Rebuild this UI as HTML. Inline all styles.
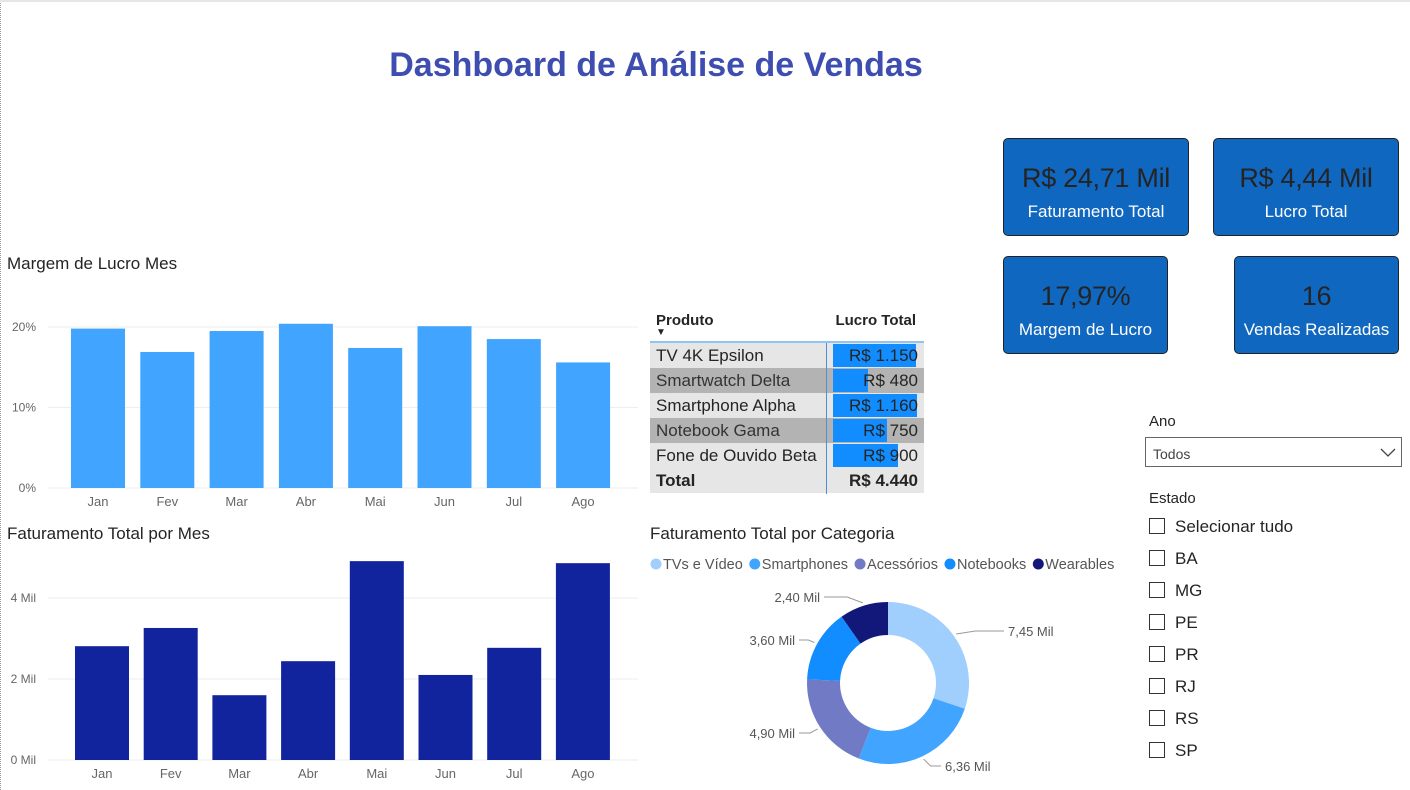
<!DOCTYPE html>
<html><head><meta charset="utf-8">
<style>
body{margin:0;width:1410px;height:790px;background:#fff;font-family:"Liberation Sans",sans-serif;position:relative;overflow:hidden}
.abs{position:absolute}
.card{position:absolute;background:#1067bf;border:1px solid #222;border-radius:5px;text-align:center;color:#fff;box-sizing:border-box}
.card .v{font-size:27px;color:#252423;margin-top:22px;line-height:34px;letter-spacing:-0.3px}
.card .l{font-size:17px;margin-top:7px}
.title{font-size:17px;color:#252423}
.cb{position:absolute;left:1149px;width:16px;height:16px;border:1px solid #333;box-sizing:border-box}
.cbl{position:absolute;left:1175px;font-size:17px;color:#252423}
svg text{font-family:"Liberation Sans",sans-serif}
</style></head><body>
<div class="abs" style="left:0;top:0;width:1px;height:790px;border-left:1px dotted #999"></div>
<div class="abs" style="left:0;top:0;width:1410px;height:2px;background:#e6e6e6"></div>
<div class="abs" style="left:0;width:1312px;top:46px;text-align:center;font-size:34px;font-weight:bold;color:#3e4db0">Dashboard de Análise de Vendas</div>

<div class="card" style="left:1003px;top:138px;width:186px;height:98px"><div class="v">R$ 24,71 Mil</div><div class="l">Faturamento Total</div></div>
<div class="card" style="left:1213px;top:138px;width:186px;height:98px"><div class="v">R$ 4,44 Mil</div><div class="l">Lucro Total</div></div>
<div class="card" style="left:1003px;top:256px;width:165px;height:98px"><div class="v">17,97%</div><div class="l">Margem de Lucro</div></div>
<div class="card" style="left:1234px;top:256px;width:165px;height:98px"><div class="v">16</div><div class="l">Vendas Realizadas</div></div>

<div class="abs title" style="left:7px;top:254px">Margem de Lucro Mes</div>
<div class="abs title" style="left:7px;top:524px">Faturamento Total por Mes</div>
<div class="abs title" style="left:650px;top:524px">Faturamento Total por Categoria</div>

<svg class="abs" style="left:0;top:0" width="1410" height="790" id="charts"></svg>

<!-- table -->
<div class="abs" style="left:650px;top:309px;width:274px;font-size:17px;color:#252423">
  <div style="position:relative;height:34px;border-bottom:2px solid #8ec3f2;box-sizing:border-box">
    <span style="position:absolute;left:6px;top:3px;font-weight:bold;font-size:15px">Produto</span>
    <span style="position:absolute;left:6px;top:18px;font-size:10px">▼</span>
    <span style="position:absolute;right:8px;top:3px;font-weight:bold;font-size:15px">Lucro Total</span>
  </div>
  <div id="rows"></div>
  <div style="position:relative;height:25px;background:#e6e6e6">
    <span style="position:absolute;left:6px;top:3px;font-weight:bold">Total</span>
    <span style="position:absolute;right:6px;top:3px;font-weight:bold">R$ 4.440</span>
  </div>
  <div style="position:absolute;left:176px;top:34px;width:1px;height:151px;background:#4a90d9"></div>
</div>

<!-- slicers -->
<div class="abs" style="left:1149px;top:413px;font-size:15px;color:#252423">Ano</div>
<div class="abs" style="left:1145px;top:437px;width:257px;height:30px;border:1px solid #666;box-sizing:border-box;font-size:14px;color:#444">
  <span style="position:absolute;left:7px;top:8px">Todos</span>
  <svg style="position:absolute;right:4px;top:8px" width="18" height="12"><path d="M2 3 L9 10 L16 3" fill="none" stroke="#444" stroke-width="1.3"/></svg>
</div>
<div class="abs" style="left:1149px;top:490px;font-size:15px;color:#252423">Estado</div>
<div id="estados"></div>

<script>
const months=["Jan","Fev","Mar","Abr","Mai","Jun","Jul","Ago"];
const margemValues=[19.8,16.9,19.5,20.4,17.4,20.1,18.5,15.6];
const margemTicks=[0,10,20];
const fatValues=[2.81,3.26,1.6,2.44,4.91,2.1,2.77,4.86];
const fatTicks=[0,2,4];
const products=["TV 4K Epsilon","Smartwatch Delta","Smartphone Alpha","Notebook Gama","Fone de Ouvido Beta"];
const lucroValues=[1150,480,1160,750,900];
const categories=["TVs e Vídeo","Smartphones","Acessórios","Notebooks","Wearables"];
const catValues=[7.45,6.36,4.90,3.60,2.40];
const catColors=["#a0cffe","#41a4ff","#717ac4","#118dff","#12187a"];
const estados=["Selecionar tudo","BA","MG","PE","PR","RJ","RS","SP"];

const NS="http://www.w3.org/2000/svg";
const svg=document.getElementById('charts');
function mk(tag,attrs,parent){const e=document.createElementNS(NS,tag);for(const k in attrs)e.setAttribute(k,attrs[k]);(parent||svg).appendChild(e);return e;}

function barChart(vals,ticks,y0,pxPer,color,fmt,name,x0,step){
  ticks.forEach(t=>{
    const y=y0-t*pxPer;
    const l=mk('line',{x1:48,x2:638,y1:y,y2:y,stroke:'#eee'});
    
    
    const tx=mk('text',{x:36,y:y+4,'font-size':12,fill:'#666','text-anchor':'end'});
    tx.textContent=fmt(t);
    
    
  });
  vals.forEach((v,i)=>{
    const h=v*pxPer;
    const r=mk('rect',{x:x0+i*step,y:y0-h,width:54,height:h,fill:color});
    
    
    const tx=mk('text',{x:x0+i*step+27,y:y0+18,'font-size':13,fill:'#666','text-anchor':'middle'});
    tx.textContent=months[i];
    
    
  });
}
barChart(margemValues,margemTicks,488,8.05,'#41a4ff',t=>t+'%','margem',71,69.3);
barChart(fatValues,fatTicks,760,40.5,'#12239e',t=>t+' Mil','faturamento',75,68.7);

// donut
const cx=888,cy=683,R=81,r=48;
const total=catValues.reduce((a,b)=>a+b,0);
let ang=0;
const labelPos=[[1008,636,'start'],[945,771,'start'],[795,738,'end'],[795,645,'end'],[820,602,'end']];
catValues.forEach((v,i)=>{
  const a0=ang,a1=ang+v/total*2*Math.PI;ang=a1;
  const p=(a,rad)=>[cx+rad*Math.sin(a),cy-rad*Math.cos(a)];
  const large=(a1-a0)>Math.PI?1:0;
  const [x1,y1]=p(a0,R),[x2,y2]=p(a1,R),[x3,y3]=p(a1,r),[x4,y4]=p(a0,r);
  const path=mk('path',{d:`M${x1} ${y1} A${R} ${R} 0 ${large} 1 ${x2} ${y2} L${x3} ${y3} A${r} ${r} 0 ${large} 0 ${x4} ${y4}Z`,fill:catColors[i]});
  
  
  const am=(a0+a1)/2;const [ex,ey]=p(am,R+3);const lp=labelPos[i];
  const lx=lp[2]==='start'?lp[0]-4:lp[0]+4;
  mk('polyline',{points:`${ex},${ey} ${ex+(lx-ex)*0.4},${lp[1]-5} ${lx},${lp[1]-5}`,fill:'none',stroke:'#999'});
  const t=mk('text',{x:lp[0],y:lp[1],'font-size':13,fill:'#555','text-anchor':lp[2]});
  t.textContent=v.toFixed(2).replace('.',',')+' Mil';
  
  
});
// legend
let lx=650;
categories.forEach((c,i)=>{
  const ci=mk('circle',{cx:lx+6,cy:564,r:5.5,fill:catColors[i]});
  
  
  const t=mk('text',{x:lx+13,y:569,'font-size':14.5,fill:'#555'});
  t.textContent=c;
  
  
  lx+=13+t.getComputedTextLength()+6;
});

// table rows
const rows=document.getElementById('rows');
const maxL=Math.max(...lucroValues);
products.forEach((p,i)=>{
  const d=document.createElement('div');
  
  
  d.style.cssText='position:relative;height:25px;background:'+(i%2?'#b3b3b3':'#e6e6e6');
  const w=lucroValues[i]/maxL*84;
  d.innerHTML='<span style="position:absolute;left:6px;top:3px;color:'+(i%2?'#333':'#252423')+'">'+p+'</span>'+
   '<div style="position:absolute;left:183px;top:1px;height:23px;width:'+w+'px;background:#118dff"></div>'+
   '<span style="position:absolute;right:6px;top:3px">R$ '+lucroValues[i].toLocaleString('de-DE')+'</span>';
  rows.appendChild(d);
});

// estados
const est=document.getElementById('estados');
estados.forEach((e,i)=>{
  const y=518+i*32;
  const b=document.createElement('div');b.className='cb';b.style.top=y+'px';
  
  
  const l=document.createElement('div');l.className='cbl';l.style.top=(y-1)+'px';l.textContent=e;
  
  
  est.appendChild(b);est.appendChild(l);
});
</script>
</body></html>
